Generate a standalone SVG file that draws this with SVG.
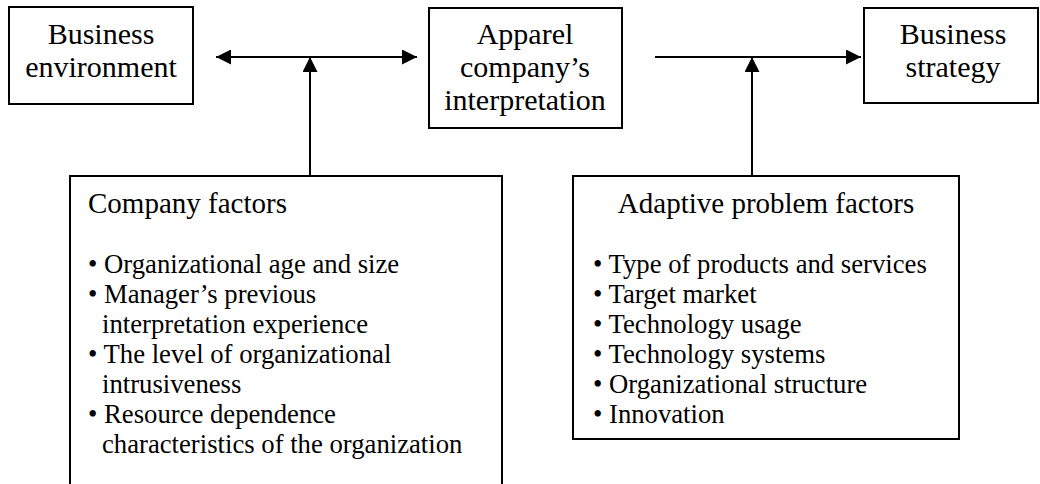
<svg xmlns="http://www.w3.org/2000/svg" width="1040" height="484" viewBox="0 0 1040 484">
  <style>
    .box { fill: #fff; stroke: #000; stroke-width: 2; }
    .link { fill: none; stroke: #000; stroke-width: 2; }
    text { font-family: "Liberation Serif", "Times New Roman", serif; fill: #000; }
    .head { font-size: 30px; text-anchor: middle; }
    .title { font-size: 29px; }
    .list { font-size: 26.7px; }
  </style>
  <defs>
    <marker id="arrow" viewBox="0 0 15 15" refX="15" refY="7.5" markerWidth="15" markerHeight="15" markerUnits="userSpaceOnUse" orient="auto-start-reverse">
      <path d="M0,0 L15,7.5 L0,15 Z" fill="#000"/>
    </marker>
  </defs>
  <rect width="1040" height="484" fill="#fff"/>

  <g id="connectors">
    <line class="link" x1="216" y1="57" x2="417" y2="57" marker-start="url(#arrow)" marker-end="url(#arrow)"/>
    <line class="link" x1="310" y1="176" x2="310" y2="57" marker-end="url(#arrow)"/>
    <line class="link" x1="655" y1="57" x2="861" y2="57" marker-end="url(#arrow)"/>
    <line class="link" x1="752" y1="176" x2="752" y2="57" marker-end="url(#arrow)"/>
  </g>

  <g id="business-environment">
    <rect class="box" x="9" y="7" width="184" height="97"/>
    <text class="head" x="101" y="44">Business</text>
    <text class="head" x="101" y="77">environment</text>
  </g>

  <g id="apparel-interpretation">
    <rect class="box" x="429" y="8" width="193" height="120"/>
    <text class="head" x="525" y="44">Apparel</text>
    <text class="head" x="525" y="77">company’s</text>
    <text class="head" x="525" y="110">interpretation</text>
  </g>

  <g id="business-strategy">
    <rect class="box" x="864" y="8" width="174" height="95"/>
    <text class="head" x="953" y="44">Business</text>
    <text class="head" x="953" y="77">strategy</text>
  </g>

  <g id="company-factors">
    <path class="box" d="M70,490 V176 H502 V490"/>
    <text class="title" x="88" y="213">Company factors</text>
    <text class="list" x="88" y="273">• Organizational age and size</text>
    <text class="list" x="88" y="303">• Manager’s previous</text>
    <text class="list" x="102" y="333">interpretation experience</text>
    <text class="list" x="88" y="363">• The level of organizational</text>
    <text class="list" x="102" y="393">intrusiveness</text>
    <text class="list" x="88" y="423">• Resource dependence</text>
    <text class="list" x="102" y="453">characteristics of the organization</text>
  </g>

  <g id="adaptive-problem-factors">
    <rect class="box" x="573" y="176" width="386" height="263"/>
    <text class="title" x="766" y="213" text-anchor="middle">Adaptive problem factors</text>
    <text class="list" x="593" y="273">• Type of products and services</text>
    <text class="list" x="593" y="303">• Target market</text>
    <text class="list" x="593" y="333">• Technology usage</text>
    <text class="list" x="593" y="363">• Technology systems</text>
    <text class="list" x="593" y="393">• Organizational structure</text>
    <text class="list" x="593" y="423">• Innovation</text>
  </g>
</svg>
